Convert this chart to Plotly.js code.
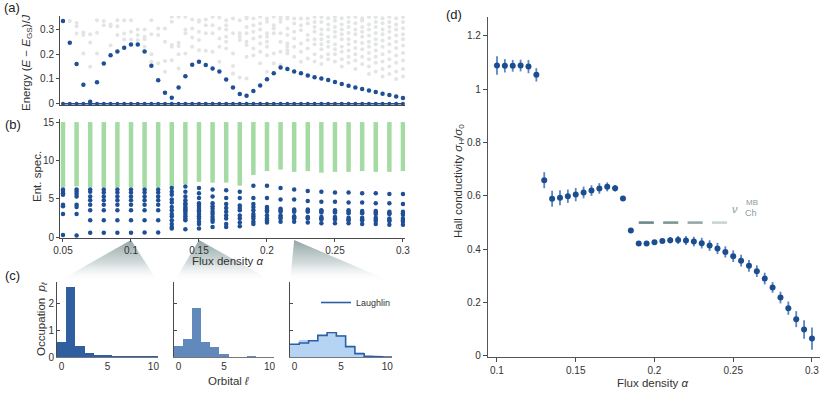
<!DOCTYPE html>
<html>
<head>
<meta charset="utf-8">
<script src="https://cdn.plot.ly/plotly-3.0.1.min.js"></script>
<style>
  html, body { margin: 0; padding: 0; background: #fff; }
  #chart { width: 830px; height: 398px; }
</style>
</head>
<body>
<div id="chart"></div>
<script>
// (a) many-body gap vs flux density
const gapAlpha = [0.05, 0.055, 0.06, 0.065, 0.07, 0.075, 0.08, 0.085, 0.09, 0.095,
  0.1, 0.105, 0.11, 0.115, 0.12, 0.125, 0.13, 0.135, 0.14, 0.145,
  0.15, 0.155, 0.16, 0.165, 0.17, 0.175, 0.18, 0.185, 0.19, 0.195,
  0.2, 0.205, 0.21, 0.215, 0.22, 0.225, 0.23, 0.235, 0.24, 0.245,
  0.25, 0.255, 0.26, 0.265, 0.27, 0.275, 0.28, 0.285, 0.29, 0.295, 0.3];
const gapLowest = [0.334, 0.246, 0.16, 0.077, 0.008, 0.087, 0.162, 0.196, 0.211, 0.226,
  0.239, 0.239, 0.211, 0.153, 0.095, 0.044, 0.024, 0.066, 0.111, 0.157,
  0.169, 0.156, 0.142, 0.13, 0.098, 0.066, 0.039, 0.032, 0.051, 0.074,
  0.099, 0.123, 0.146, 0.14, 0.13, 0.123, 0.114, 0.107, 0.102, 0.096,
  0.088, 0.08, 0.073, 0.066, 0.06, 0.053, 0.047, 0.04, 0.035, 0.029, 0.023];
const gapHigher = [
  [], [0.334], [0.326, 0.313, 0.283], [0.287, 0.277, 0.203], [0.28, 0.247, 0.149],
  [0.337, 0.286, 0.203], [0.334, 0.317], [0.32, 0.313, 0.236], [0.337, 0.313, 0.277], [0.337, 0.283, 0.259],
  [0.337, 0.29, 0.259], [0.3, 0.277, 0.257], [0.3, 0.27, 0.26, 0.23], [0.337, 0.28, 0.2, 0.169], [0.304, 0.277, 0.163],
  [0.304, 0.25, 0.172, 0.129], [0.351, 0.331, 0.237, 0.23, 0.176], [0.351, 0.246, 0.233, 0.2, 0.142], [0.351, 0.3, 0.284, 0.203, 0.112], [0.34, 0.304, 0.267, 0.23],
  [0.337, 0.331, 0.29, 0.257, 0.216], [0.34, 0.317, 0.284, 0.214], [0.351, 0.317, 0.284, 0.21], [0.348, 0.304, 0.263, 0.23, 0.169], [0.337, 0.317, 0.3, 0.27, 0.25, 0.223],
  [0.344, 0.284, 0.203, 0.152, 0.122], [0.337, 0.284, 0.27, 0.257, 0.106], [0.351, 0.344, 0.31, 0.284, 0.25, 0.237, 0.19, 0.102], [0.344, 0.317, 0.29, 0.263, 0.223, 0.196], [0.351, 0.324, 0.3, 0.27, 0.243, 0.21, 0.163],
  [0.344, 0.331, 0.284, 0.27, 0.25, 0.23, 0.196, 0.129], [0.351, 0.317, 0.304, 0.284, 0.203, 0.163], [0.352, 0.343, 0.331, 0.284, 0.25, 0.21, 0.156], [0.352, 0.344, 0.304, 0.277, 0.243, 0.23, 0.216, 0.203, 0.142], [0.344, 0.324, 0.29, 0.263, 0.23, 0.19],
  [0.344, 0.317, 0.297, 0.243, 0.21, 0.169], [0.344, 0.324, 0.277, 0.257, 0.223, 0.183], [0.35, 0.33, 0.31, 0.29, 0.26, 0.24, 0.2, 0.17], [0.35, 0.33, 0.3, 0.28, 0.26, 0.24, 0.22, 0.19, 0.16], [0.345, 0.32, 0.3, 0.27, 0.25, 0.23, 0.2, 0.18],
  [0.35, 0.335, 0.31, 0.29, 0.27, 0.24, 0.22, 0.2, 0.17], [0.345, 0.32, 0.3, 0.28, 0.26, 0.23, 0.21, 0.18, 0.15], [0.35, 0.33, 0.31, 0.285, 0.26, 0.24, 0.215, 0.19, 0.165], [0.35, 0.325, 0.3, 0.28, 0.25, 0.225, 0.2, 0.175, 0.14], [0.345, 0.335, 0.31, 0.29, 0.27, 0.245, 0.22, 0.19, 0.16],
  [0.35, 0.32, 0.3, 0.275, 0.25, 0.23, 0.205, 0.18, 0.15, 0.12], [0.35, 0.33, 0.31, 0.285, 0.26, 0.24, 0.215, 0.19, 0.165, 0.13], [0.345, 0.325, 0.3, 0.28, 0.255, 0.23, 0.2, 0.17, 0.14, 0.11], [0.35, 0.33, 0.31, 0.29, 0.265, 0.24, 0.21, 0.18, 0.15, 0.12], [0.345, 0.32, 0.3, 0.275, 0.25, 0.225, 0.195, 0.165, 0.13, 0.1],
  [0.35, 0.33, 0.305, 0.28, 0.26, 0.235, 0.205, 0.175, 0.14, 0.11]
];

// (b) entanglement spectrum
const entAlpha = [0.05, 0.06, 0.07, 0.08, 0.09, 0.1, 0.11, 0.12, 0.13, 0.14, 0.15, 0.16, 0.17,
  0.18, 0.19, 0.2, 0.21, 0.22, 0.23, 0.24, 0.25, 0.26, 0.27, 0.28, 0.29, 0.3];
const entGreenLow = [6.5, 6.6, 6.5, 6.5, 6.5, 6.5, 6.5, 6.5, 6.5, 6.9, 7.2, 7.1, 7.1,
  6.7, 8.1, 8.6, 8.8, 8.5, 8.6, 8.4, 8.5, 8.5, 8.6, 8.5, 8.5, 8.6];
const entGreenTop = 15;
const entBlue = [
  [6.2, 6.0, 5.7, 5.5, 4.2, 4.0, 3.0, 0.25],
  [6.2, 5.9, 5.6, 5.3, 4.2, 3.9, 3.0, 0.2],
  [6.2, 5.9, 5.3, 4.8, 4.2, 3.5, 2.2, 0.55],
  [6.2, 5.8, 5.3, 4.8, 4.2, 3.5, 2.2, 0.55],
  [6.2, 5.8, 5.3, 4.8, 4.2, 3.5, 2.2, 0.55],
  [6.2, 5.8, 5.3, 4.8, 4.2, 3.5, 2.2, 0.55],
  [6.2, 5.8, 5.3, 4.8, 4.2, 3.5, 2.2, 0.6],
  [6.2, 5.8, 5.3, 4.8, 4.2, 3.5, 2.2, 0.6],
  [6.4, 5.9, 5.5, 4.9, 4.5, 3.9, 3.5, 3.0, 2.7, 2.2, 1.7, 1.3, 1.1],
  [6.6, 5.9, 5.3, 4.8, 4.4, 4.2, 3.9, 3.7, 3.5, 3.3, 3.0, 2.7, 2.4, 2.2, 1.0],
  [6.4, 5.7, 5.1, 4.4, 4.1, 3.8, 3.5, 3.3, 3.0, 2.7, 2.4, 2.0, 1.7, 1.1],
  [6.2, 5.3, 4.4, 4.0, 3.7, 3.3, 3.0, 2.6, 2.3, 2.0, 1.3],
  [6.1, 5.1, 4.3, 3.8, 3.3, 2.8, 2.4, 1.7, 1.3],
  [5.9, 5.1, 4.1, 3.8, 3.5, 2.8, 2.4, 1.9, 1.4],
  [6.7, 5.1, 4.3, 3.9, 3.5, 3.0, 2.7, 2.4, 2.0, 1.7],
  [6.7, 5.1, 3.9, 3.7, 3.5, 3.3, 2.8, 2.4, 2.2, 1.9],
  [6.4, 4.9, 3.7, 3.5, 3.3, 2.8, 2.6, 2.4, 2.0],
  [6.2, 4.9, 3.6, 3.4, 3.3, 2.7, 2.5, 2.4, 2.0],
  [6.0, 4.7, 3.6, 3.4, 3.3, 2.6, 2.5, 2.4, 1.9],
  [5.9, 4.6, 3.5, 3.4, 3.2, 2.6, 2.4, 2.3, 1.8],
  [5.8, 4.6, 3.5, 3.3, 3.2, 2.6, 2.4, 2.3, 1.8],
  [5.8, 4.5, 3.5, 3.3, 3.1, 2.5, 2.3, 2.2, 1.8],
  [5.7, 4.5, 3.4, 3.2, 3.1, 2.5, 2.3, 2.2, 1.7],
  [5.7, 4.4, 3.4, 3.2, 3.0, 2.5, 2.3, 2.1, 1.7],
  [5.6, 4.4, 3.3, 3.1, 3.0, 2.4, 2.2, 2.1, 1.6],
  [5.6, 4.3, 3.3, 3.1, 2.9, 2.4, 2.2, 2.0, 1.6]
];

// (c) orbital occupations at three flux densities
const orbital = [0, 1, 2, 3, 4, 5, 6, 7, 8, 9, 10];
const zoomAlpha = [0.1, 0.15, 0.22];
const occFirst = [0.57, 2.6, 0.42, 0.13, 0.06, 0.08, 0.02, 0.03, 0.03, 0.04, 0.02];
const occSecond = [0.42, 0.65, 1.82, 0.54, 0.36, 0.12, 0.01, 0.01, 0.03, 0.01, 0.01];
const occThird = [0.5, 0.62, 0.58, 0.78, 0.85, 0.82, 0.45, 0.2, 0.06, 0.02, 0.01];
const occLaughlin = [0.47, 0.52, 0.6, 0.8, 0.9, 0.78, 0.38, 0.12, 0.03, 0.01, 0.0];

// (d) Hall conductivity
const hallAlpha = [0.1, 0.105, 0.11, 0.115, 0.12, 0.125, 0.13, 0.135, 0.14, 0.145,
  0.15, 0.155, 0.16, 0.165, 0.17, 0.175, 0.18, 0.185, 0.19, 0.195,
  0.2, 0.205, 0.21, 0.215, 0.22, 0.225, 0.23, 0.235, 0.24, 0.245,
  0.25, 0.255, 0.26, 0.265, 0.27, 0.275, 0.28, 0.285, 0.29, 0.295, 0.3];
const hallValue = [1.089, 1.088, 1.088, 1.089, 1.085, 1.054, 0.659, 0.589, 0.593, 0.599,
  0.605, 0.613, 0.62, 0.628, 0.634, 0.629, 0.59, 0.47, 0.422, 0.422,
  0.426, 0.431, 0.434, 0.435, 0.433, 0.429, 0.423, 0.414, 0.403, 0.39,
  0.374, 0.357, 0.338, 0.318, 0.29, 0.257, 0.219, 0.179, 0.138, 0.099, 0.065];
const hallErr = [0.035, 0.025, 0.022, 0.022, 0.025, 0.025, 0.03, 0.03, 0.028, 0.025,
  0.025, 0.022, 0.02, 0.02, 0.017, 0.012, 0.004, 0.004, 0.004, 0.004,
  0.006, 0.008, 0.012, 0.015, 0.017, 0.018, 0.02, 0.02, 0.021, 0.021,
  0.022, 0.022, 0.022, 0.022, 0.022, 0.02, 0.022, 0.025, 0.03, 0.035, 0.042];
const nuMB = 0.5;
const nuMBRange = [0.19, 0.252];

// ---- layout helpers ----
const W = 830, H = 398;
const px = x => x / W;
const py = y => 1 - y / H;

const FONT = 'Liberation Sans, Arial, Helvetica, sans-serif';
const DARK = '#1f4f95';
const AXIS = '#4a4a4a';

const leftX = [60, 405];
const alphaRange = [0.0478, 0.3015];
const histBoxes = [[57, 158], [174, 274], [290, 392]];
const histTop = 282, histBottom = 357;

function alphaToPx(a) {
  return leftX[0] + (a - alphaRange[0]) / (alphaRange[1] - alphaRange[0]) * (leftX[1] - leftX[0]);
}

// subplot ids: x/y = page overlay (drawn first, under everything),
// x2 = (a), x3 = (b), x4..x6 = (c), x7 = (d)
const traces = [];

// zoom wedges from (b) down to (c)
const apexY = 240, baseY = histTop;
zoomAlpha.forEach((a, k) => {
  const ax = alphaToPx(a);
  const [l, r] = histBoxes[k];
  traces.push({
    x: [ax, r, l, ax], y: [H - apexY, H - baseY, H - baseY, H - apexY],
    type: 'scatter', mode: 'lines', fill: 'toself', xaxis: 'x', yaxis: 'y',
    line: { width: 0 }, hoverinfo: 'skip', showlegend: false,
    fillgradient: {
      type: 'vertical', start: H - baseY, stop: H - apexY,
      colorscale: [[0, 'rgba(255,255,255,0)'], [0.45, 'rgba(196,207,207,0.75)'], [1, 'rgba(140,160,160,0.95)']]
    }
  });
});

// (a) higher levels in gray
const grayX = [], grayY = [];
gapAlpha.forEach((a, i) => gapHigher[i].forEach(v => { grayX.push(a); grayY.push(v); }));
traces.push({
  x: grayX, y: grayY, type: 'scatter', mode: 'markers', xaxis: 'x2', yaxis: 'y2',
  marker: { color: '#e3e5e5', size: 4 }, showlegend: false, hoverinfo: 'skip'
});
traces.push({
  x: gapAlpha, y: gapAlpha.map(() => 0), type: 'scatter', mode: 'lines+markers', xaxis: 'x2', yaxis: 'y2',
  line: { color: DARK, width: 1.5 }, marker: { color: DARK, size: 4 }, showlegend: false, cliponaxis: false
});
traces.push({
  x: gapAlpha, y: gapLowest, type: 'scatter', mode: 'markers', xaxis: 'x2', yaxis: 'y2',
  marker: { color: DARK, size: 4.5 }, showlegend: false, cliponaxis: false
});

// (b) entanglement spectrum
const greenX = [], greenY = [];
entAlpha.forEach((a, i) => { greenX.push(a, a, null); greenY.push(entGreenLow[i], entGreenTop, null); });
traces.push({
  x: greenX, y: greenY, type: 'scatter', mode: 'lines', xaxis: 'x3', yaxis: 'y3',
  line: { color: '#a3dba3', width: 4.5 }, showlegend: false, hoverinfo: 'skip'
});
const blueX = [], blueY = [];
entAlpha.forEach((a, i) => entBlue[i].forEach(v => { blueX.push(a); blueY.push(v); }));
traces.push({
  x: blueX, y: blueY, type: 'scatter', mode: 'markers', xaxis: 'x3', yaxis: 'y3',
  marker: { color: DARK, size: 4.5 }, showlegend: false
});

// (c) histograms
const histColors = ['#2f5f9f', '#6189bb', '#b5d4f4'];
[occFirst, occSecond, occThird].forEach((occ, k) => {
  traces.push({
    x: orbital, y: occ, type: 'bar', width: 1, xaxis: 'x' + (k + 4), yaxis: 'y' + (k + 4),
    marker: { color: histColors[k], line: { width: 0 } }, showlegend: false
  });
});
const stepX = [], stepY = [];
orbital.forEach((l, i) => { stepX.push(l - 0.5, l + 0.5); stepY.push(occLaughlin[i], occLaughlin[i]); });
traces.push({
  x: stepX, y: stepY, type: 'scatter', mode: 'lines', xaxis: 'x6', yaxis: 'y6',
  line: { color: '#2c5ea6', width: 1.6 }, name: 'Laughlin', showlegend: true
});

// (d) Hall conductivity
traces.push({
  x: hallAlpha, y: hallValue, type: 'scatter', mode: 'markers', xaxis: 'x7', yaxis: 'y7',
  marker: { color: '#1b4d91', size: 6 },
  error_y: { type: 'data', array: hallErr, visible: true, color: '#5a86bd', thickness: 1.8, width: 0 },
  showlegend: false, cliponaxis: false
});
// nu_Ch^MB dashed reference, fading to the right
const dashColors = ['#6c8888', '#7d9797', '#93a8a8', '#c9d4d4'];
const seg = (nuMBRange[1] - nuMBRange[0]) / 4;
dashColors.forEach((c, k) => {
  const s = nuMBRange[0] + k * seg;
  traces.push({
    x: [s, s + seg * 0.62], y: [nuMB, nuMB], type: 'scatter', mode: 'lines', xaxis: 'x7', yaxis: 'y7',
    line: { color: c, width: 2.6 }, showlegend: false, hoverinfo: 'skip'
  });
});

const baseAxis = {
  showgrid: false, zeroline: false, showline: true, linecolor: AXIS, linewidth: 1,
  ticks: 'outside', ticklen: 3, tickcolor: AXIS, tickwidth: 1,
  tickfont: { family: FONT, size: 10, color: '#333' }
};

const layout = {
  width: W, height: H,
  margin: { l: 0, r: 0, t: 0, b: 0 },
  paper_bgcolor: '#fff', plot_bgcolor: 'rgba(0,0,0,0)',
  font: { family: FONT, size: 11, color: '#333' },
  bargap: 0,
  showlegend: true,
  legend: {
    x: px(396), xanchor: 'right', y: py(288), yanchor: 'top',
    bgcolor: 'rgba(255,255,255,0.85)', borderwidth: 0,
    font: { family: FONT, size: 9, color: '#333' }, itemwidth: 30
  },
  xaxis: { domain: [0, 1], range: [0, W], visible: false, fixedrange: true, anchor: 'y' },
  yaxis: { domain: [0, 1], range: [0, H], visible: false, fixedrange: true, anchor: 'x' },
  xaxis2: Object.assign({}, baseAxis, {
    domain: [px(leftX[0]), px(leftX[1])], range: alphaRange, anchor: 'y2',
    tick0: 0.05, dtick: 0.05, ticks: 'inside', showticklabels: false
  }),
  yaxis2: Object.assign({}, baseAxis, {
    domain: [py(105), py(16)], range: [-0.005, 0.354], anchor: 'x2', dtick: 0.1
  }),
  xaxis3: Object.assign({}, baseAxis, {
    domain: [px(leftX[0]), px(leftX[1])], range: alphaRange, anchor: 'y3',
    tick0: 0.05, dtick: 0.05
  }),
  yaxis3: Object.assign({}, baseAxis, {
    domain: [py(238), py(119)], range: [-0.13, 15.4], anchor: 'x3', tickvals: [0, 5, 10, 15]
  }),
  xaxis7: Object.assign({}, baseAxis, {
    domain: [px(488), px(820)], range: [0.0943, 0.3051], anchor: 'y7',
    tick0: 0.1, dtick: 0.05, ticklen: 4, linecolor: '#555', linewidth: 1.2
  }),
  yaxis7: Object.assign({}, baseAxis, {
    domain: [py(357), py(17)], range: [-0.004, 1.271], anchor: 'x7',
    dtick: 0.2, ticklen: 4, linecolor: '#555', linewidth: 1.2
  }),
  annotations: []
};

histBoxes.forEach((b, k) => {
  const n = k + 4;
  layout['xaxis' + n] = Object.assign({}, baseAxis, {
    domain: [px(b[0]), px(b[1])], range: [-0.5, 10.5], anchor: 'y' + n,
    tickvals: [0, 5, 10], ticks: '', linecolor: '#777'
  });
  layout['yaxis' + n] = Object.assign({}, baseAxis, {
    domain: [py(histBottom), py(histTop)], range: [0, 2.78], anchor: 'x' + n,
    tickvals: [0, 1, 2], ticks: 'inside', showticklabels: k === 0
  });
});

function note(text, x, y, opts) {
  layout.annotations.push(Object.assign({
    text: text, x: px(x), y: py(y), xref: 'paper', yref: 'paper',
    showarrow: false, xanchor: 'center', yanchor: 'middle',
    font: { family: FONT, size: 11.5, color: '#333' }
  }, opts || {}));
}

const panelFont = { family: FONT, size: 13, color: '#222' };
note('(a)', 2, 8, { xanchor: 'left', font: panelFont });
note('(b)', 3, 125, { xanchor: 'left', font: panelFont });
note('(c)', 3, 275, { xanchor: 'left', font: panelFont });
note('(d)', 444, 14, { xanchor: 'left', font: panelFont });

note('Energy (<i>E</i> − <i>E</i><sub>GS</sub>)/<i>J</i>', 27, 63, { textangle: -90 });
note('Ent. spec.', 37, 177, { textangle: -90 });
note('Flux density <i>α</i>', 228, 261);
note('Occupation  <i>p</i><sub><i>ℓ</i></sub>', 42, 319, { textangle: -90 });
note('Orbital <i>ℓ</i>', 228, 381);
note('Hall conductivity <i>σ</i><sub>H</sub>/<i>σ</i><sub>0</sub>', 459, 181, { textangle: -90 });
note('Flux density <i>α</i>', 653, 383);

const mbColor = '#8a9c9c';
note('<i>ν</i>', 735, 209, { font: { family: FONT, size: 11, color: mbColor } });
note('MB', 744, 202, { xanchor: 'left', font: { family: FONT, size: 8, color: mbColor } });
note('Ch', 743, 213, { xanchor: 'left', font: { family: FONT, size: 9, color: mbColor } });

Plotly.newPlot('chart', traces, layout, { displayModeBar: false, staticPlot: true });
</script>
</body>
</html>
